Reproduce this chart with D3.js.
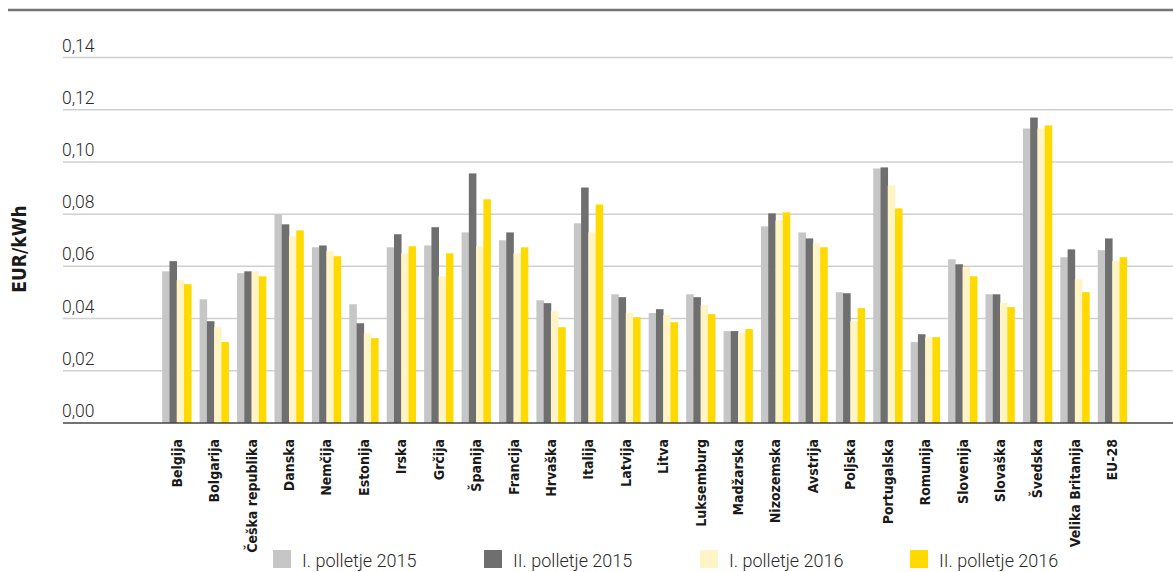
<!DOCTYPE html>
<html>
<head>
<meta charset="utf-8">
<script src="https://cdn.jsdelivr.net/npm/d3@7"></script>
<style>
  body { margin: 0; background: #fff; }
  .tick-label { font-family: Roboto, "Open Sans", sans-serif; font-weight: 300; font-size: 17.5px; fill: #2a2a2a; }
  .cat-label { font-family: "Liberation Sans Narrow", "DejaVu Sans Condensed", sans-serif; font-weight: bold; font-size: 14px; fill: #1a1a1a; }
  .legend-label { font-family: Roboto, "Open Sans", sans-serif; font-weight: 300; font-size: 18px; fill: #2a2a2a; }
</style>
</head>
<body>
<svg id="chart" width="1173" height="572"></svg>
<script>
// countries
var countries = ["Belgija", "Bolgarija", "Češka republika", "Danska", "Nemčija", "Estonija", "Irska", "Grčija",
  "Španija", "Francija", "Hrvaška", "Italija", "Latvija", "Litva", "Luksemburg", "Madžarska", "Nizozemska",
  "Avstrija", "Poljska", "Portugalska", "Romunija", "Slovenija", "Slovaška", "Švedska", "Velika Britanija", "EU-28"];

var seriesNames = ["I. polletje 2015", "II. polletje 2015", "I. polletje 2016", "II. polletje 2016"];
var colors = ["#c6c6c6", "#706f6f", "#fff4c6", "#ffda00"];

var h1_2015 = [0.0581, 0.0474, 0.0574, 0.0800, 0.0673, 0.0455, 0.0673, 0.0680, 0.0730, 0.0700, 0.0470, 0.0765, 0.0493,
  0.0421, 0.0493, 0.0352, 0.0753, 0.0730, 0.0501, 0.0975, 0.0310, 0.0627, 0.0493, 0.1128, 0.0635, 0.0662];
var h2_2015 = [0.0620, 0.0390, 0.0581, 0.0761, 0.0680, 0.0382, 0.0723, 0.0750, 0.0956, 0.0730, 0.0459, 0.0902, 0.0482,
  0.0436, 0.0482, 0.0352, 0.0803, 0.0707, 0.0497, 0.0979, 0.0340, 0.0608, 0.0493, 0.1170, 0.0665, 0.0707];
var h1_2016 = [0.0547, 0.0367, 0.0581, 0.0715, 0.0658, 0.0344, 0.0650, 0.0562, 0.0677, 0.0650, 0.0428, 0.0730, 0.0421,
  0.0413, 0.0451, 0.0344, 0.0776, 0.0688, 0.0390, 0.0910, 0.0329, 0.0597, 0.0459, 0.1128, 0.0551, 0.0620];
var h2_2016 = [0.0532, 0.0310, 0.0562, 0.0738, 0.0639, 0.0325, 0.0677, 0.0650, 0.0857, 0.0673, 0.0367, 0.0837, 0.0405,
  0.0386, 0.0417, 0.0360, 0.0807, 0.0673, 0.0440, 0.0822, 0.0329, 0.0562, 0.0444, 0.1140, 0.0501, 0.0635];

var yTicks = [0, 0.02, 0.04, 0.06, 0.08, 0.10, 0.12, 0.14];

var series = [h1_2015, h2_2015, h1_2016, h2_2016];

var svg = d3.select("#chart");

var x = d3.scaleBand().domain(countries).range([158, 1131]).paddingInner(0.224).paddingOuter(0.112);
var xs = d3.scaleBand().domain(d3.range(4)).range([0, x.bandwidth()]);
var y = d3.scaleLinear().domain([0, 0.14]).range([423, 57.5]);

// top rule
svg.append("line").attr("x1", 8).attr("x2", 1173).attr("y1", 10).attr("y2", 10)
  .attr("stroke", "#747474").attr("stroke-width", 2.5);

// grid + tick labels
var fmt = function(d) { return d3.format(".2f")(d).replace(".", ","); };
svg.append("g").selectAll("line").data(yTicks.slice(1)).join("line")
  .attr("x1", 63).attr("x2", 1173)
  .attr("y1", d => y(d)).attr("y2", d => y(d))
  .attr("stroke", "#d0d0d0").attr("stroke-width", 1.5);
svg.append("g").selectAll("text").data(yTicks).join("text")
  .attr("class", "tick-label")
  .attr("x", 62).attr("y", d => y(d) - 6)
  .text(fmt);

// bars
var groups = svg.append("g").selectAll("g").data(countries).join("g")
  .attr("transform", d => "translate(" + x(d) + ",0)");
groups.selectAll("rect").data((d, i) => series.map((s, k) => ({ k: k, v: s[i] }))).join("rect")
  .attr("x", d => xs(d.k))
  .attr("width", xs.bandwidth() + 0.3)
  .attr("y", d => y(d.v))
  .attr("height", d => y(0) - y(d.v))
  .attr("fill", d => colors[d.k]);

// baseline
svg.append("line").attr("x1", 63).attr("x2", 1173).attr("y1", y(0)).attr("y2", y(0))
  .attr("stroke", "#444").attr("stroke-width", 1.5);

// category labels
svg.append("g").selectAll("text").data(countries).join("text")
  .attr("class", "cat-label")
  .attr("text-anchor", "end")
  .attr("transform", d => "translate(" + (x(d) + x.bandwidth() / 2 + 5) + ",439) rotate(-90)")
  .text(d => d);

// y title
svg.append("text")
  .attr("transform", "translate(26,249) rotate(-90)")
  .attr("text-anchor", "middle")
  .style("font-family", "'Liberation Sans Narrow', 'DejaVu Sans Condensed', sans-serif")
  .style("font-weight", "bold").style("font-size", "19px").style("fill", "#1a1a1a")
  .text("EUR/kWh");

// legend
var legendX = [273, 484, 700, 910];
var lg = svg.append("g").selectAll("g").data(seriesNames).join("g")
  .attr("transform", (d, i) => "translate(" + legendX[i] + ",550)");
lg.append("rect").attr("width", 18).attr("height", 18).attr("fill", (d, i) => colors[i]);
lg.append("text").attr("class", "legend-label").attr("x", 29).attr("y", 17).text(d => d);
</script>
</body>
</html>
